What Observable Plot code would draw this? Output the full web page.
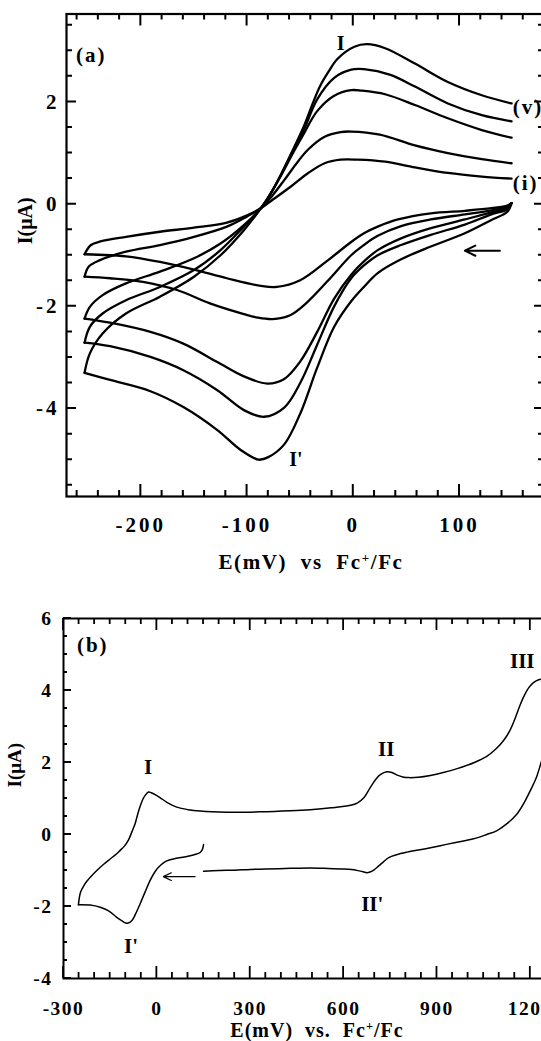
<!DOCTYPE html>
<html><head><meta charset="utf-8">
<script src="https://cdn.jsdelivr.net/npm/d3@7"></script>
<script src="https://cdn.jsdelivr.net/npm/@observablehq/plot@0.6"></script>
<style>
html,body{margin:0;padding:0;background:#fff;width:541px;height:1041px;overflow:hidden;}
#wrap{position:relative;width:541px;height:1041px;overflow:hidden;background:#fff;}
.pan{position:absolute;left:0;width:541px;}
.xt{position:absolute;transform:translateX(-50%);font-family:"Liberation Serif","Times New Roman",serif;font-weight:bold;white-space:pre;color:#000;line-height:1;}
.xt sup{font-size:0.62em;vertical-align:0.55em;line-height:0;}
svg text{font-family:"Liberation Serif","Times New Roman",serif;font-weight:bold;}
</style></head><body>
<div id="wrap">
<div id="pa" class="pan" style="top:0"></div>
<div class="xt" style="left:311px;top:552px;font-size:21px;letter-spacing:1.6px;">E(mV)  vs  Fc<sup>+</sup>/Fc</div>
<div id="pb" class="pan" style="top:590px"></div>
<div class="xt" style="left:317px;top:1020px;font-size:20px;letter-spacing:1px;">E(mV)  vs.  Fc<sup>+</sup>/Fc</div>
</div>
<script>
// ---------- Panel (a): five CVs (i)..(v), [E (mV), I (uA)] ----------
const a_i_down = [[149,0.02],[145,-0.03],[130,-0.08],[105,-0.13],[73,-0.18],[42,-0.30],[23,-0.44],[10,-0.57],[-2,-0.74],[-24,-1.10],[-50,-1.49],[-72,-1.62],[-87,-1.60],[-119,-1.45],[-150,-1.28],[-182,-1.13],[-214,-1.02],[-240,-0.99],[-253,-0.98]];
const a_i_up = [[-253,-0.98],[-247,-0.80],[-238,-0.73],[-214,-0.64],[-182,-0.54],[-150,-0.46],[-119,-0.36],[-100,-0.22],[-87,-0.08],[-75,0.10],[-59,0.34],[-43,0.60],[-27,0.80],[-12,0.87],[4,0.87],[30,0.83],[58,0.72],[89,0.61],[121,0.54],[149,0.50]];
const a_ii_down = [[149,0.02],[145,-0.05],[130,-0.12],[105,-0.20],[73,-0.30],[45,-0.43],[23,-0.62],[10,-0.80],[-2,-1.00],[-24,-1.50],[-45,-1.95],[-60,-2.18],[-76,-2.25],[-90,-2.22],[-103,-2.15],[-135,-1.94],[-166,-1.68],[-198,-1.52],[-229,-1.45],[-253,-1.42]];
const a_ii_up = [[-253,-1.42],[-249,-1.22],[-239,-1.10],[-214,-0.93],[-182,-0.80],[-150,-0.64],[-119,-0.44],[-100,-0.24],[-87,-0.08],[-78,0.12],[-65,0.47],[-54,0.78],[-43,1.06],[-27,1.32],[-12,1.41],[-2,1.42],[25,1.36],[58,1.15],[89,1.00],[121,0.88],[149,0.80]];
const a_iii_down = [[149,0.02],[145,-0.08],[130,-0.16],[105,-0.30],[73,-0.47],[45,-0.67],[23,-0.90],[10,-1.12],[-2,-1.38],[-18,-1.85],[-34,-2.50],[-50,-3.08],[-65,-3.42],[-81,-3.51],[-103,-3.37],[-128,-3.09],[-160,-2.73],[-191,-2.50],[-229,-2.32],[-253,-2.24]];
const a_iii_up = [[-253,-2.24],[-248,-2.01],[-236,-1.78],[-214,-1.55],[-182,-1.32],[-150,-1.06],[-125,-0.77],[-103,-0.41],[-87,-0.08],[-78,0.20],[-68,0.56],[-56,1.03],[-46,1.40],[-34,1.82],[-18,2.12],[-2,2.23],[8,2.22],[30,2.15],[58,1.94],[89,1.68],[121,1.45],[149,1.30]];
const a_iv_down = [[149,0.02],[145,-0.10],[130,-0.20],[105,-0.40],[73,-0.60],[45,-0.80],[23,-1.00],[10,-1.20],[-2,-1.45],[-18,-2.00],[-34,-2.75],[-50,-3.50],[-65,-3.98],[-84,-4.16],[-103,-4.03],[-128,-3.64],[-160,-3.25],[-191,-2.99],[-229,-2.78],[-253,-2.71]];
const a_iv_up = [[-253,-2.71],[-248,-2.40],[-236,-2.14],[-214,-1.88],[-182,-1.62],[-150,-1.29],[-125,-0.90],[-103,-0.44],[-87,-0.08],[-78,0.20],[-68,0.58],[-56,1.08],[-46,1.48],[-34,2.05],[-18,2.47],[-2,2.63],[10,2.64],[35,2.53],[58,2.30],[89,1.97],[121,1.74],[149,1.62]];
const a_v_down = [[149,0.02],[145,-0.15],[130,-0.31],[105,-0.57],[73,-0.83],[45,-1.08],[23,-1.35],[10,-1.62],[-2,-1.90],[-18,-2.40],[-34,-3.20],[-50,-4.10],[-65,-4.70],[-80,-4.95],[-89,-5.00],[-106,-4.81],[-128,-4.42],[-160,-3.97],[-191,-3.66],[-229,-3.44],[-253,-3.30]];
const a_v_up = [[-253,-3.30],[-248,-2.92],[-236,-2.53],[-214,-2.14],[-182,-1.81],[-150,-1.42],[-125,-1.00],[-103,-0.51],[-87,-0.08],[-78,0.20],[-68,0.58],[-56,1.10],[-46,1.55],[-38,1.98],[-31,2.32],[-23,2.60],[-15,2.84],[1,3.08],[13,3.13],[30,3.05],[58,2.75],[89,2.39],[121,2.13],[149,1.97]];

const a_xTicks = [-200, -100, 0, 100];
const a_yTicks = [-4, -2, 0, 2];
const a_tags = [
  {E: -261, I: 2.92, t: "(a)"},
  {E: 150, I: 1.90, t: "(v)"},
  {E: 150, I: 0.40, t: "(i)"}
];
const a_peaks = [
  {E: -12, I: 3.15, t: "I"},
  {E: -54, I: -4.99, t: "I'"}
];
const a_arrow = [{x1: 138, x2: 105, y: -0.91}];

// ---------- Panel (b): wide-range CV ----------
const b_cath = [[150,-0.28],[146,-0.42],[139,-0.50],[120,-0.56],[96,-0.61],[53,-0.68],[30,-0.74],[11,-0.86],[-5,-1.02],[-22,-1.28],[-38,-1.60],[-54,-1.93],[-68,-2.20],[-80,-2.39],[-92,-2.46],[-100,-2.46],[-112,-2.40],[-129,-2.30],[-155,-2.12],[-182,-2.02],[-215,-1.96],[-252,-1.95]];
const b_anod = [[-252,-1.95],[-249,-1.75],[-245,-1.60],[-235,-1.43],[-225,-1.30],[-193,-1.00],[-170,-0.82],[-150,-0.68],[-130,-0.54],[-118,-0.44],[-105,-0.33],[-91,-0.15],[-80,0.08],[-70,0.30],[-62,0.55],[-54,0.78],[-45,0.98],[-38,1.08],[-27,1.18],[-18,1.16],[0,1.08],[11,1.02],[35,0.88],[64,0.76],[100,0.69],[139,0.65],[225,0.62],[332,0.63],[429,0.66],[493,0.69],[560,0.74],[622,0.81],[645,0.88],[665,1.02],[686,1.31],[705,1.55],[718,1.66],[739,1.74],[755,1.72],[772,1.65],[790,1.60],[809,1.58],[840,1.59],[879,1.64],[920,1.72],[965,1.83],[1020,2.00],[1060,2.17],[1090,2.38],[1114,2.61],[1135,2.90],[1150,3.20],[1165,3.55],[1180,3.85],[1195,4.08],[1210,4.22],[1227,4.30],[1250,4.32]];
const b_ret = [[1250,2.35],[1237,2.06],[1220,1.60],[1200,1.22],[1180,0.88],[1157,0.57],[1125,0.30],[1093,0.11],[1060,0.00],[1018,-0.12],[960,-0.22],[911,-0.31],[860,-0.40],[804,-0.49],[770,-0.56],[745,-0.64],[728,-0.76],[712,-0.88],[698,-0.98],[685,-1.04],[675,-1.06],[660,-1.03],[640,-0.99],[600,-0.96],[536,-0.94],[493,-0.93],[429,-0.94],[350,-0.96],[300,-0.97],[250,-0.99],[200,-1.00],[150,-1.02]];

const b_xTicks = [-300, 0, 300, 600, 900, 1200];
const b_yTicks = [-4, -2, 0, 2, 4, 6];
const b_tags = [{E: -257, I: 5.25, t: "(b)"}];
const b_peaks = [
  {E: -28, I: 1.86, t: "I"},
  {E: -83, I: -3.11, t: "I'"},
  {E: 737, I: 2.36, t: "II"},
  {E: 692, I: -1.94, t: "II'"},
  {E: 1174, I: 4.81, t: "III"}
];
const b_arrow = [{x1: 123, x2: 21, y: -1.17}];

// ---------- helpers ----------
function rows(list) {
  const out = [];
  list.forEach(([k, arr]) => arr.forEach(([E, I]) => out.push({k, E, I})));
  return out;
}
const fmt = d => String(d);

// inward tick marks placed through the chart's own x and y scales
function addTicks(chart, cfg) {
  const X = chart.scale("x"), Y = chart.scale("y");
  const [lx, sx, ly, sy] = cfg.tl;
  const yb = Y.apply(cfg.yDom[0]), yt = Y.apply(cfg.yDom[1]);
  const xl = X.apply(cfg.xDom[0]), xr = X.apply(cfg.xDom[1]);
  let d = "";
  const vx = (vals, L) => vals.forEach(v => { const x = X.apply(v); d += `M${x},${yb}V${yb - L}M${x},${yt}V${yt + L}`; });
  const vy = (vals, L) => vals.forEach(v => {
    const y = Y.apply(v);
    d += `M${xl},${y}H${xl + L}`;
    if (cfg.right) d += `M${xr},${y}H${xr - L}`;
  });
  vx(cfg.xMinor, sx); vx(cfg.xTicks, lx); vy(cfg.yMinor, sy); vy(cfg.yTicks, ly);
  d3.select(chart).append("path")
    .attr("d", d).attr("fill", "none").attr("stroke", "#000")
    .attr("stroke-width", cfg.tw).attr("aria-label", "frame ticks");
}

function panel(host, cfg) {
  const {W, H, mt, mb, ml, mr, xDom, yDom} = cfg;
  const chart = Plot.plot({
    width: W, height: H, marginTop: mt, marginBottom: mb, marginLeft: ml, marginRight: mr,
    x: {domain: xDom, label: null},
    y: {domain: yDom, label: null},
    style: {background: "#fff", color: "#000", fontFamily: "Liberation Serif", fontWeight: "bold", overflow: "visible", maxWidth: "none"},
    marks: [
      Plot.axisX({ticks: cfg.xTicks, anchor: "bottom", tickSize: 0, tickPadding: cfg.xPad, tickFormat: fmt, fontSize: cfg.tickFont, label: null}),
      Plot.axisY({ticks: cfg.yTicks, anchor: "left", tickSize: 0, tickPadding: cfg.yPad, tickFormat: fmt, fontSize: cfg.tickFont, label: null}),
      Plot.line(cfg.data, {x: "E", y: "I", z: "k", curve: "catmull-rom", stroke: "#000", strokeWidth: cfg.lw, clip: true}),
      Plot.arrow(cfg.arrow, {x1: "x1", y1: "y", x2: "x2", y2: "y", stroke: "#000", strokeWidth: cfg.aw, headLength: 11, headAngle: 52}),
      Plot.text(cfg.tags, {x: "E", y: "I", text: "t", textAnchor: "start", fontSize: 21, fontWeight: "bold", fill: "#000"}),
      Plot.text(cfg.peaks, {x: "E", y: "I", text: "t", textAnchor: "middle", fontSize: cfg.peakFont, fontWeight: "bold", fill: "#000"}),
      Plot.text(["I(μA)"], {frameAnchor: "left", rotate: -90, dx: cfg.ylx, dy: -11, fontSize: cfg.ylFont, fontWeight: "bold", fill: "#000"}),
      Plot.frame({stroke: "#000", strokeWidth: cfg.fwid})
    ]
  });
  const s = d3.select(chart);
  s.selectAll('g[aria-label="x-axis tick label"] text').style("letter-spacing", cfg.ls);
  s.selectAll('g[aria-label="y-axis tick label"] text').style("letter-spacing", cfg.ls);
  s.selectAll('g[aria-label="text"] text').filter(function () { return /^\(/.test(this.textContent); }).style("letter-spacing", cfg.tagLs);
  addTicks(chart, cfg);
  host.appendChild(chart);
}

panel(document.getElementById("pa"), {
  W: 546, H: 545, mt: 13.5, mb: 49, ml: 66, mr: 2,
  xDom: [-270, 180], yDom: [-5.72, 3.72],
  xTicks: a_xTicks, yTicks: a_yTicks,
  xMinor: d3.range(-260, 181, 20), yMinor: d3.range(-5.5, 3.6, 0.5),
  data: rows([
    ["i-d", a_i_down], ["i-u", a_i_up], ["ii-d", a_ii_down], ["ii-u", a_ii_up],
    ["iii-d", a_iii_down], ["iii-u", a_iii_up], ["iv-d", a_iv_down], ["iv-u", a_iv_up],
    ["v-d", a_v_down], ["v-u", a_v_up]
  ]),
  arrow: a_arrow, tags: a_tags, peaks: a_peaks,
  xPad: 21, yPad: 7, tickFont: 21, peakFont: 20, ylx: -41, ylFont: 20,
  lw: 2.3, aw: 2, fwid: 2.2, ls: "3px", tagLs: "2px",
  tl: [12, 6, 10, 6], tw: 2, right: true
});

panel(document.getElementById("pb"), {
  W: 548, H: 430, mt: 28, mb: 42, ml: 63, mr: 2.6,
  xDom: [-300, 1250], yDom: [-4, 6],
  xTicks: b_xTicks, yTicks: b_yTicks,
  xMinor: d3.range(-250, 1251, 50), yMinor: d3.range(-3.5, 6, 0.5),
  data: rows([["c", b_cath], ["a", b_anod], ["r", b_ret]]),
  arrow: b_arrow, tags: b_tags, peaks: b_peaks,
  xPad: 23, yPad: 11, tickFont: 19.5, peakFont: 21, ylx: -49, ylFont: 19,
  lw: 1.5, aw: 1.2, fwid: 2, ls: "1.5px", tagLs: "2px",
  tl: [12, 6, 8, 4], tw: 1.8, right: false
});
</script>
</body></html>
